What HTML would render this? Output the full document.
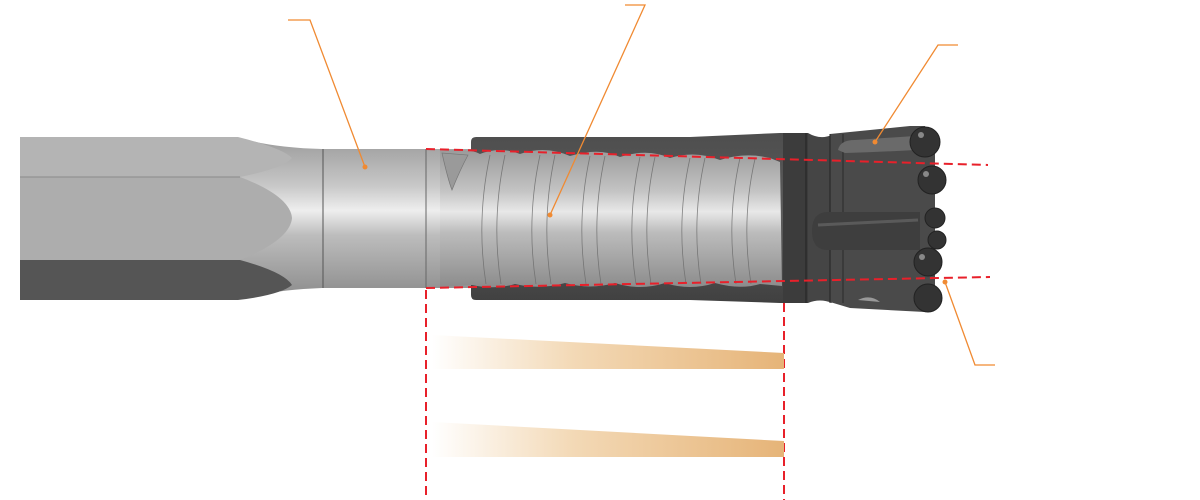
<!DOCTYPE html>
<html><head><style>html,body{margin:0;padding:0;background:#fff;width:1200px;height:500px;overflow:hidden}</style></head>
<body>
<svg width="1200" height="500" viewBox="0 0 1200 500" xmlns="http://www.w3.org/2000/svg">
<defs>
<linearGradient id="neck" x1="0" y1="0" x2="0" y2="1">
<stop offset="0" stop-color="#9a9a9a"/><stop offset="0.3" stop-color="#c8c8c8"/><stop offset="0.45" stop-color="#eeeeee"/><stop offset="0.6" stop-color="#bdbdbd"/><stop offset="1" stop-color="#8a8a8a"/></linearGradient>
<linearGradient id="thr" x1="0" y1="0" x2="0" y2="1">
<stop offset="0" stop-color="#9a9a9a"/><stop offset="0.3" stop-color="#c4c4c4"/><stop offset="0.45" stop-color="#e8e8e8"/><stop offset="0.6" stop-color="#bcbcbc"/><stop offset="1" stop-color="#8c8c8c"/></linearGradient>
<linearGradient id="dark" x1="0" y1="0" x2="0" y2="1">
<stop offset="0" stop-color="#4e4e4e"/><stop offset="0.5" stop-color="#5c5c5c"/><stop offset="1" stop-color="#404040"/></linearGradient>
<linearGradient id="bar" x1="0" y1="0" x2="1" y2="0">
<stop offset="0" stop-color="#fff" stop-opacity="1"/><stop offset="0.4" stop-color="#f3d9b6"/><stop offset="1" stop-color="#e6b478"/></linearGradient>
</defs>
<!-- neck -->
<path d="M236,137 Q272,148 322,149 L472,149 L472,288 L322,288 Q272,290 236,300 Z" fill="url(#neck)"/>
<!-- shank hex faces -->
<path d="M20,137 L238,137 Q282,148 292,158 Q284,168 240,177 L20,177 Z" fill="#b4b4b4"/>
<path d="M20,177 L240,177 Q290,196 292,218 Q290,240 240,260 L20,260 Z" fill="#adadad"/>
<path d="M20,260 L240,260 Q284,272 292,285 Q280,295 238,300 L20,300 Z" fill="#555"/>
<line x1="20" y1="177" x2="240" y2="177" stroke="#8a8a8a" stroke-width="1"/>
<line x1="323" y1="149" x2="323" y2="288" stroke="#555" stroke-width="1"/>
<line x1="426" y1="149" x2="426" y2="288" stroke="#666" stroke-width="1"/>
<!-- sleeve -->
<path d="M476,137 L690,137 L780,133 L790,133 L790,303 L780,303 L690,300 L476,300 Q471,300 471,295 L471,142 Q471,137 476,137Z" fill="url(#dark)"/>
<!-- threads window -->
<path d="M440,151 Q470,148 480,154 Q500,146 520,154 Q545,145 570,156 Q600,147 620,157 Q648,148 670,158 Q695,150 720,160 Q745,152 770,158 L780,162 L782,286 L760,284 Q740,290 715,283 Q690,291 665,283 Q640,291 615,283 Q590,290 565,283 Q540,290 515,284 Q495,290 472,285 L440,287Z" fill="url(#thr)"/>
<g stroke="#6a6a6a" stroke-width="0.8" fill="none" opacity="0.8">
<path d="M490,155 Q476,220 486,284"/><path d="M505,155 Q491,220 501,284"/><path d="M540,155 Q526,220 536,284"/><path d="M555,155 Q541,220 551,284"/><path d="M590,156 Q576,220 586,284"/><path d="M605,156 Q591,220 601,284"/><path d="M640,157 Q626,220 636,284"/><path d="M655,157 Q641,220 651,284"/><path d="M690,158 Q676,220 686,284"/><path d="M705,158 Q691,220 701,284"/><path d="M740,158 Q726,220 736,284"/><path d="M755,159 Q741,220 751,284"/>
</g>
<path d="M442,153 Q448,180 452,190 Q460,170 468,155Z" fill="#9a9a9a" stroke="#777" stroke-width="0.7"/>
<!-- collar -->
<rect x="783" y="133" width="25" height="170" fill="#3c3c3c"/>
<line x1="806" y1="133" x2="806" y2="303" stroke="#222" stroke-width="1"/>
<path d="M808,133 Q820,140 832,135 L832,303 Q820,298 808,303Z" fill="#454545"/>
<!-- bit head -->
<path d="M830,134 L910,126 L925,126 L935,150 L935,290 L925,312 L850,308 L830,302Z" fill="#4a4a4a"/>
<line x1="830" y1="134" x2="830" y2="303" stroke="#222"/>
<line x1="843" y1="134" x2="843" y2="303" stroke="#2a2a2a"/>
<path d="M838,150 Q840,140 855,140 L915,136 L915,150 Q880,152 845,153Z" fill="#6a6a6a"/>
<path d="M828,250 Q812,250 812,231 Q812,212 828,212 L920,212 L920,250 Z" fill="#3e3e3e"/>
<path d="M818,225 L918,220" stroke="#777" stroke-width="3" opacity="0.5"/>
<g fill="#333" stroke="#222" stroke-width="1">
<circle cx="925" cy="142" r="15"/><circle cx="932" cy="180" r="14"/><circle cx="935" cy="218" r="10"/><circle cx="937" cy="240" r="9"/><circle cx="928" cy="262" r="14"/><circle cx="928" cy="298" r="14"/>
</g>
<g fill="#888"><circle cx="921" cy="135" r="3"/><circle cx="926" cy="174" r="3"/><circle cx="922" cy="257" r="3"/></g>
<path d="M858,300 Q870,294 880,302 Z" fill="#999"/>
<!-- red dashed -->
<g stroke="#e8202a" stroke-width="2" stroke-dasharray="9,5" fill="none">
<line x1="426" y1="149" x2="988" y2="165"/>
<line x1="426" y1="288" x2="990" y2="277"/>
<line x1="426" y1="290" x2="426" y2="500"/>
<line x1="784" y1="303" x2="784" y2="500"/>
</g>
<!-- gradient bars -->
<polygon points="432,335 784,353 784,369 432,369" fill="url(#bar)"/>
<polygon points="432,422 784,441 784,457 432,457" fill="url(#bar)"/>
<!-- leaders -->
<g stroke="#f08a32" stroke-width="1.3" fill="none">
<polyline points="288,20 310,20 365,167"/>
<polyline points="625,5 645,5 550,215"/>
<polyline points="958,45 938,45 875,142"/>
<polyline points="995,365 975,365 945,282"/>
</g>
<g fill="#f08a32"><circle cx="365" cy="167" r="2.5"/><circle cx="550" cy="215" r="2.5"/><circle cx="875" cy="142" r="2.5"/><circle cx="945" cy="282" r="2.5"/></g>
</svg>
</body></html>
